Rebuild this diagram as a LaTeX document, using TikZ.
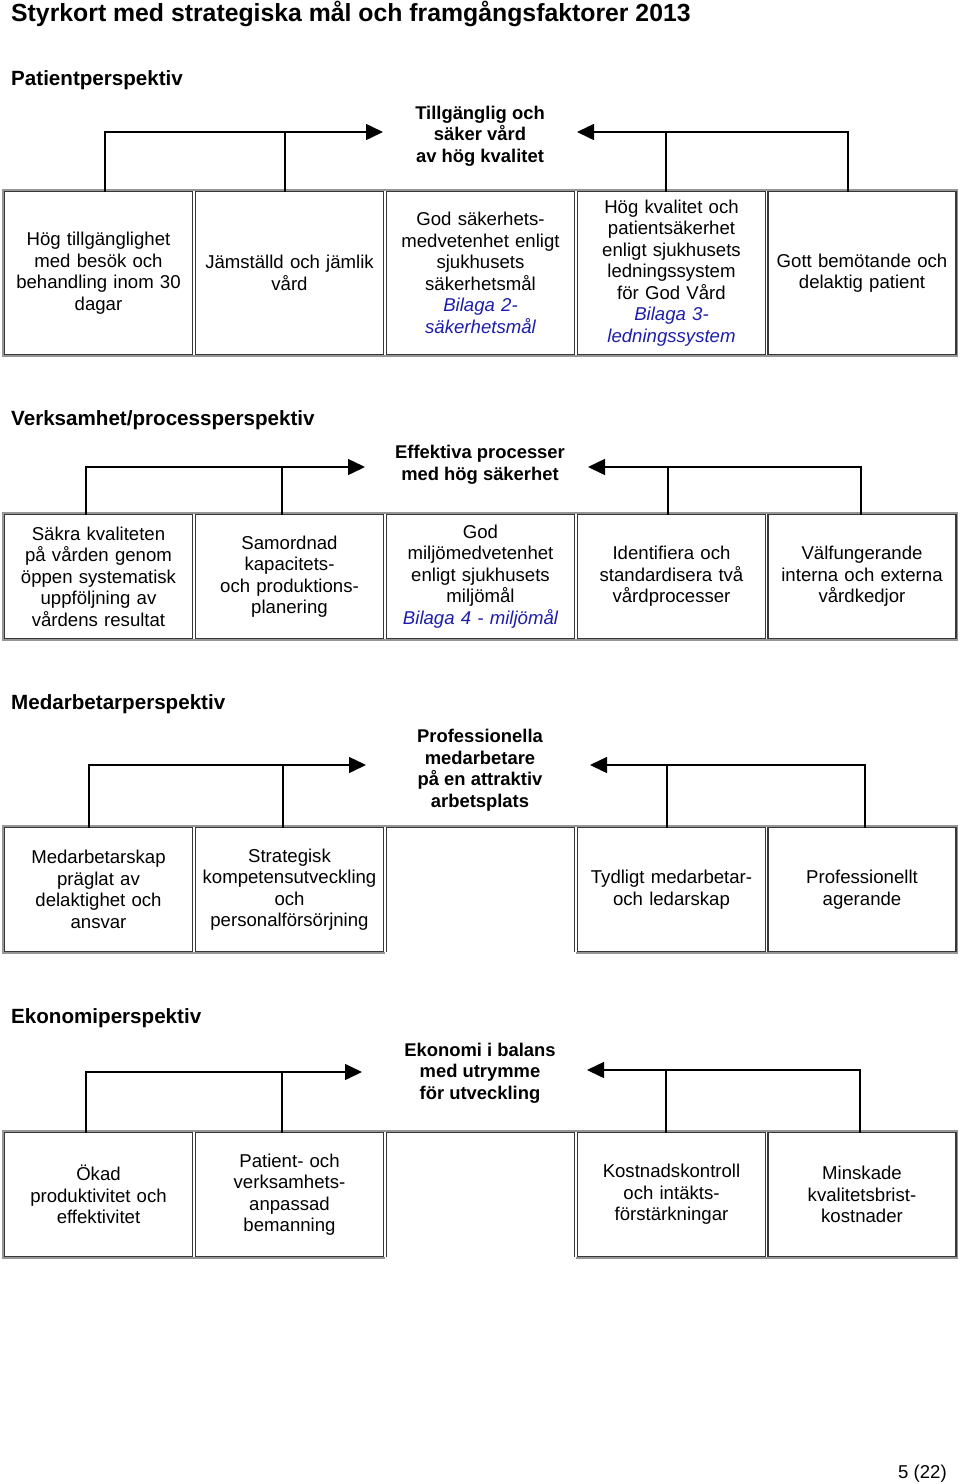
\documentclass[tikz,border=0pt]{standalone}
\usepackage{fontspec}
\setmainfont{Liberation Sans}
\usetikzlibrary{calc,arrows.meta}
\definecolor{linkblue}{RGB}{30,30,170}
\definecolor{framegray}{RGB}{150,150,150}
\definecolor{celledge}{RGB}{55,55,55}
\newcommand\bil[1]{\textcolor{linkblue}{\itshape #1}}
\tikzset{
  cellbox/.style={rectangle, draw=celledge, line width=1.1pt, minimum width=188pt, text width=186pt, inner sep=1pt, outer sep=0pt, align=center, font=\fontsize{18.6}{21.5}\selectfont},
  openbox/.style={cellbox, draw=none},
  celledgeline/.style={draw=celledge, line width=1.1pt},
  goal/.style={align=center, font=\bfseries\fontsize{18.4}{21.5}\selectfont, inner sep=0pt},
  head/.style={anchor=base west, inner sep=0pt, font=\bfseries\fontsize{20.6}{24}\selectfont},
  tableframe/.style={draw=framegray, line width=1.2pt},
  conn/.style={draw=black, line width=1.5pt},
  arrowline/.style={conn, -{Triangle[length=17pt,width=16pt]}},
  rowA/.style={minimum height=163pt},
  rowB/.style={minimum height=124pt}
}
\begin{document}
\begin{tikzpicture}[x=1pt,y=-1pt]
\fill[white] (0,0) rectangle (960,1484);
\useasboundingbox (0,0) rectangle (960,1484);

% title and headings
\node[anchor=base west, inner sep=0pt, font=\bfseries\fontsize{24.8}{28}\selectfont] (title) at (11,21) {Styrkort med strategiska mål och framgångsfaktorer 2013};
\node[head] (h1) at (11,85) {Patientperspektiv};
\node[head] (h2) at (11,425) {Verksamhet/processperspektiv};
\node[head] (h3) at (11,709) {Medarbetarperspektiv};
\node[head] (h4) at (11,1023) {Ekonomiperspektiv};

% ---------------- Row 1 ----------------
\node[goal] (g1) at (480,136) {Tillgänglig och\\säker vård\\av hög kvalitet};
\draw[tableframe] (3,190) rectangle (957,356);
\node[cellbox,rowA] (c11) at (98.5,273) {Hög tillgänglighet\\med besök och\\behandling inom 30\\dagar};
\node[cellbox,rowA] (c12) at (289.5,273) {Jämställd och jämlik\\vård};
\node[cellbox,rowA] (c13) at (480.5,273) {God säkerhets-\\medvetenhet enligt\\sjukhusets\\säkerhetsmål\\\bil{Bilaga 2-}\\\bil{säkerhetsmål}};
\node[cellbox,rowA] (c14) at (671.5,273) {Hög kvalitet och\\patientsäkerhet\\enligt sjukhusets\\ledningssystem\\för God Vård\\\bil{Bilaga 3-}\\\bil{ledningssystem}};
\node[cellbox,rowA,minimum width=187pt] (c15) at (862,273) {Gott bemötande och\\delaktig patient};
\coordinate (t1l) at ([xshift=-97pt,yshift=4pt]g1.center);
\coordinate (t1r) at ([xshift=97pt,yshift=4pt]g1.center);
\coordinate (v11) at ($(c11.north)+(6.5,0)$);
\coordinate (v12) at ($(c12.north)+(-4.5,0)$);
\coordinate (v14) at ($(c14.north)+(-5.5,0)$);
\coordinate (v15) at ($(c15.north)+(-14,0)$);
\draw[arrowline] (v11) |- (t1l);
\draw[conn] (v12) -- (v12 |- t1l);
\draw[arrowline] (v15) |- (t1r);
\draw[conn] (v14) -- (v14 |- t1r);

% ---------------- Row 2 ----------------
\node[goal] (g2) at (480,465) {Effektiva processer\\med hög säkerhet};
\draw[tableframe] (3,513) rectangle (957,640);
\node[cellbox,rowB] (c21) at (98.5,576.5) {Säkra kvaliteten\\på vården genom\\öppen systematisk\\uppföljning av\\vårdens resultat};
\node[cellbox,rowB] (c22) at (289.5,576.5) {Samordnad\\kapacitets-\\och produktions-\\planering};
\node[cellbox,rowB] (c23) at (480.5,576.5) {God\\miljömedvetenhet\\enligt sjukhusets\\miljömål\\\bil{Bilaga 4 - miljömål}};
\node[cellbox,rowB] (c24) at (671.5,576.5) {Identifiera och\\standardisera två\\vårdprocesser};
\node[cellbox,rowB,minimum width=187pt] (c25) at (862,576.5) {Välfungerande\\interna och externa\\vårdkedjor};
\coordinate (t2l) at ([xshift=-115pt,yshift=-2pt]g2.center);
\coordinate (t2r) at ([xshift=108pt,yshift=-2pt]g2.center);
\coordinate (v21) at ($(c21.north)+(-12.5,0)$);
\coordinate (v22) at ($(c22.north)+(-7.5,0)$);
\coordinate (v24) at ($(c24.north)+(-3.5,0)$);
\coordinate (v25) at ($(c25.north)+(-1,0)$);
\draw[arrowline] (v21) |- (t2l);
\draw[conn] (v22) -- (v22 |- t2l);
\draw[arrowline] (v25) |- (t2r);
\draw[conn] (v24) -- (v24 |- t2r);

% ---------------- Row 3 ----------------
\node[goal] (g3) at (480,770) {Professionella\\medarbetare\\på en attraktiv\\arbetsplats};
\draw[tableframe] (385,953) -- (3,953) -- (3,826) -- (957,826) -- (957,953) -- (576,953);
\node[cellbox,rowB] (c31) at (98.5,889.5) {Medarbetarskap\\präglat av\\delaktighet och\\ansvar};
\node[cellbox,rowB] (c32) at (289.5,889.5) {Strategisk\\kompetensutveckling\\och\\personalförsörjning};
\node[openbox,rowB] (c33) at (480.5,889.5) {};
\draw[celledgeline] (c33.south west) -- (c33.north west) -- (c33.north east) -- (c33.south east);
\node[cellbox,rowB] (c34) at (671.5,889.5) {Tydligt medarbetar-\\och ledarskap};
\node[cellbox,rowB,minimum width=187pt] (c35) at (862,889.5) {Professionellt\\agerande};
\coordinate (t3l) at ([xshift=-114pt,yshift=5pt]g3.center);
\coordinate (t3r) at ([xshift=110pt,yshift=5pt]g3.center);
\coordinate (v31) at ($(c31.north)+(-9.5,0)$);
\coordinate (v32) at ($(c32.north)+(-6.5,0)$);
\coordinate (v34) at ($(c34.north)+(-4.5,0)$);
\coordinate (v35) at ($(c35.north)+(3,0)$);
\draw[arrowline] (v31) |- (t3l);
\draw[conn] (v32) -- (v32 |- t3l);
\draw[arrowline] (v35) |- (t3r);
\draw[conn] (v34) -- (v34 |- t3r);

% ---------------- Row 4 ----------------
\node[goal] (g4) at (480,1073) {Ekonomi i balans\\med utrymme\\för utveckling};
\draw[tableframe] (385,1258) -- (3,1258) -- (3,1131) -- (957,1131) -- (957,1258) -- (576,1258);
\node[cellbox,rowB] (c41) at (98.5,1194.5) {Ökad\\produktivitet och\\effektivitet};
\node[cellbox,rowB] (c42) at (289.5,1194.5) {Patient- och\\verksamhets-\\anpassad\\bemanning};
\node[openbox,rowB] (c43) at (480.5,1194.5) {};
\draw[celledgeline] (c43.south west) -- (c43.north west) -- (c43.north east) -- (c43.south east);
\node[cellbox,rowB] (c44) at (671.5,1194.5) {Kostnadskontroll\\och intäkts-\\förstärkningar};
\node[cellbox,rowB,minimum width=187pt] (c45) at (862,1194.5) {Minskade\\kvalitetsbrist-\\kostnader};
\coordinate (t4l) at ([xshift=-118pt,yshift=1pt]g4.center);
\coordinate (t4r) at ([xshift=107pt,yshift=3pt]g4.center);
\coordinate (v41) at ($(c41.north)+(-12.5,0)$);
\coordinate (v42) at ($(c42.north)+(-7.5,0)$);
\coordinate (v44) at ($(c44.north)+(-5.5,0)$);
\coordinate (v45) at ($(c45.north)+(-2,0)$);
\draw[arrowline] (v41) |- (t4l);
\draw[conn] (v42) -- (v42 |- t4l);
\draw[arrowline] (v45) |- (t4r);
\draw[conn] (v44) -- (v44 |- t4r);

% page number
\node[anchor=base east, inner sep=0pt, font=\fontsize{18.6}{21}\selectfont] (pg) at (947,1478) {5 (22)};
\end{tikzpicture}
\end{document}
